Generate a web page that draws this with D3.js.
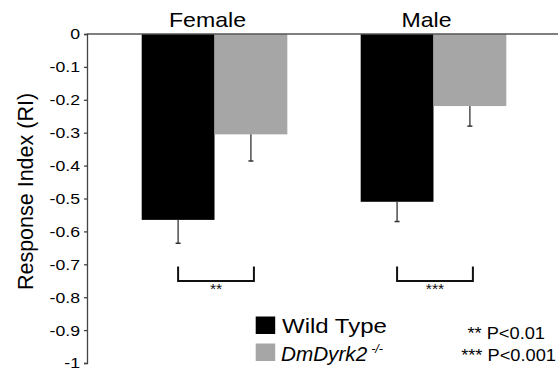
<!DOCTYPE html>
<html><head><meta charset="utf-8">
<script src="https://cdn.jsdelivr.net/npm/d3@7"></script>
<style>body{margin:0;background:#fff}svg{display:block;font-family:Arial,"Liberation Sans",sans-serif}</style>
</head><body><svg id="c" width="558" height="373"></svg>
<script>
const groups = ["Female", "Male"];
const seriesNames = ["Wild Type", "DmDyrk2"];
const wildType = [-0.565, -0.51];
const wildTypeErr = [0.071, 0.06];
const mutant = [-0.305, -0.219];
const mutantErr = [0.081, 0.061];
const sigLabels = ["**", "***"];
const tickValues = [0, -0.1, -0.2, -0.3, -0.4, -0.5, -0.6, -0.7, -0.8, -0.9, -1];
const tickLabels = ["0", "-0.1", "-0.2", "-0.3", "-0.4", "-0.5", "-0.6", "-0.7", "-0.8", "-0.9", "-1"];
const pNotes = ["** P<0.01", "*** P<0.001"];
const colors = ["#000000", "#a6a6a6"];

const svg = d3.select("#c");
const y = d3.scaleLinear().domain([0, -1]).range([34, 363]);
const x0 = d3.scaleBand().domain(groups).range([141.7, 506.3]).paddingInner(0.335).paddingOuter(0);
const x1 = d3.scaleBand().domain(seriesNames).range([0, x0.bandwidth()]).padding(0);

// horizontal stretch of text (reference text is slightly widened)
function stretch(sel, k) {
  sel.each(function() {
    const w = this.getComputedTextLength();
    d3.select(this).attr("textLength", w * k).attr("lengthAdjust", "spacingAndGlyphs");
  });
}

const data = groups.map((g, i) => ({
  group: g,
  vals: [
    {s: seriesNames[0], v: wildType[i], e: wildTypeErr[i]},
    {s: seriesNames[1], v: mutant[i], e: mutantErr[i]}
  ],
  sig: sigLabels[i]
}));

// bars
const gg = svg.selectAll("g.grp").data(data).join("g").attr("class", "grp")
  .attr("transform", d => `translate(${x0(d.group)},0)`);
gg.selectAll("rect").data(d => d.vals).join("rect")
  .attr("x", d => x1(d.s)).attr("width", x1.bandwidth())
  .attr("y", y(0)).attr("height", d => y(d.v) - y(0))
  .attr("fill", (d, i) => colors[i]);

// error bars
gg.selectAll("g.err").data(d => d.vals).join("g").attr("class", "err").each(function(d) {
  const cx = x1(d.s) + x1.bandwidth() / 2;
  const g = d3.select(this);
  g.append("line").attr("x1", cx).attr("x2", cx).attr("y1", y(d.v)).attr("y2", y(d.v - d.e))
    .attr("stroke", "#333").attr("stroke-width", 1.3);
  g.append("line").attr("x1", cx - 2.5).attr("x2", cx + 2.5).attr("y1", y(d.v - d.e)).attr("y2", y(d.v - d.e))
    .attr("stroke", "#333").attr("stroke-width", 1.5);
});

// significance brackets
gg.each(function(d) {
  const g = d3.select(this);
  const xa = x1(seriesNames[0]) + x1.bandwidth() / 2;
  const xb = x1(seriesNames[1]) + x1.bandwidth() / 2 + 3;
  const yt = y(-0.707), yb = y(-0.751);
  g.append("path").attr("d", `M${xa},${yt}V${yb}H${xb}V${yt}`)
    .attr("fill", "none").attr("stroke", "#111").attr("stroke-width", 2);
  g.append("text").attr("class", "sig").attr("x", (xa + xb) / 2).attr("y", y(-0.79)).attr("text-anchor", "middle")
    .attr("font-size", 14).attr("fill", "#111").text(d.sig);
});
stretch(svg.selectAll("text.sig"), 1.12);

// group titles
svg.selectAll("text.title").data(groups).join("text").attr("class", "title")
  .attr("x", g => x0(g) + x0.bandwidth() / 2 - 7).attr("y", 27)
  .attr("text-anchor", "middle").attr("font-size", 21).attr("fill", "#000").text(g => g);
stretch(svg.selectAll("text.title"), 1.1);

// zero line
svg.append("line").attr("x1", 87).attr("x2", 558).attr("y1", y(0)).attr("y2", y(0))
  .attr("stroke", "#555").attr("stroke-width", 1.3);

// y axis
const ax = svg.append("g").attr("transform", "translate(87,0)")
  .call(d3.axisLeft(y).tickValues(tickValues).tickSize(3).tickPadding(4)
    .tickFormat((d, i) => tickLabels[i]));
ax.select(".domain").attr("stroke", "#444").attr("stroke-width", 1.3);
ax.selectAll(".tick line").attr("stroke", "#444").attr("stroke-width", 1.3);
ax.selectAll(".tick text").attr("font-size", 15.5).attr("fill", "#000")
  .attr("font-family", "Arial, 'Liberation Sans', sans-serif");
stretch(ax.selectAll(".tick text"), 1.14);

svg.append("text").attr("transform", "translate(33,191.5) rotate(-90)")
  .attr("text-anchor", "middle").attr("font-size", 21.5).attr("fill", "#000")
  .text("Response Index (RI)");

// legend
const lg = svg.append("g");
const legY = [316.5, 343.5];
seriesNames.forEach((s, i) => {
  lg.append("rect").attr("x", 255.7).attr("y", legY[i]).attr("width", 19.5).attr("height", 17.5).attr("fill", colors[i]);
});
const t1 = lg.append("text").attr("x", 282).attr("y", 333).attr("font-size", 20.5).attr("fill", "#000").text(seriesNames[0]);
stretch(t1, 1.17);
const t2 = lg.append("text").attr("x", 281).attr("y", 360.5).attr("font-size", 20.5).attr("fill", "#000");
const t2a = t2.append("text").remove();
t2.append("tspan").attr("font-style", "italic").text(seriesNames[1]);
t2.append("tspan").attr("font-size", 12.5).attr("dx", 4).attr("dy", -8).attr("font-style", "italic").text("-/-");
stretch(t2, 1.05);
</script>
<script>
const pn = d3.select("#c").selectAll("text.pn").data(pNotes).join("text").attr("class", "pn")
  .attr("x", (d, i) => i === 0 ? 545 : 556).attr("y", (d, i) => i === 0 ? 339 : 361)
  .attr("text-anchor", "end").attr("font-size", 16.3).attr("fill", "#000").text(d => d);
stretch(pn, 1.12);
</script></body></html>
